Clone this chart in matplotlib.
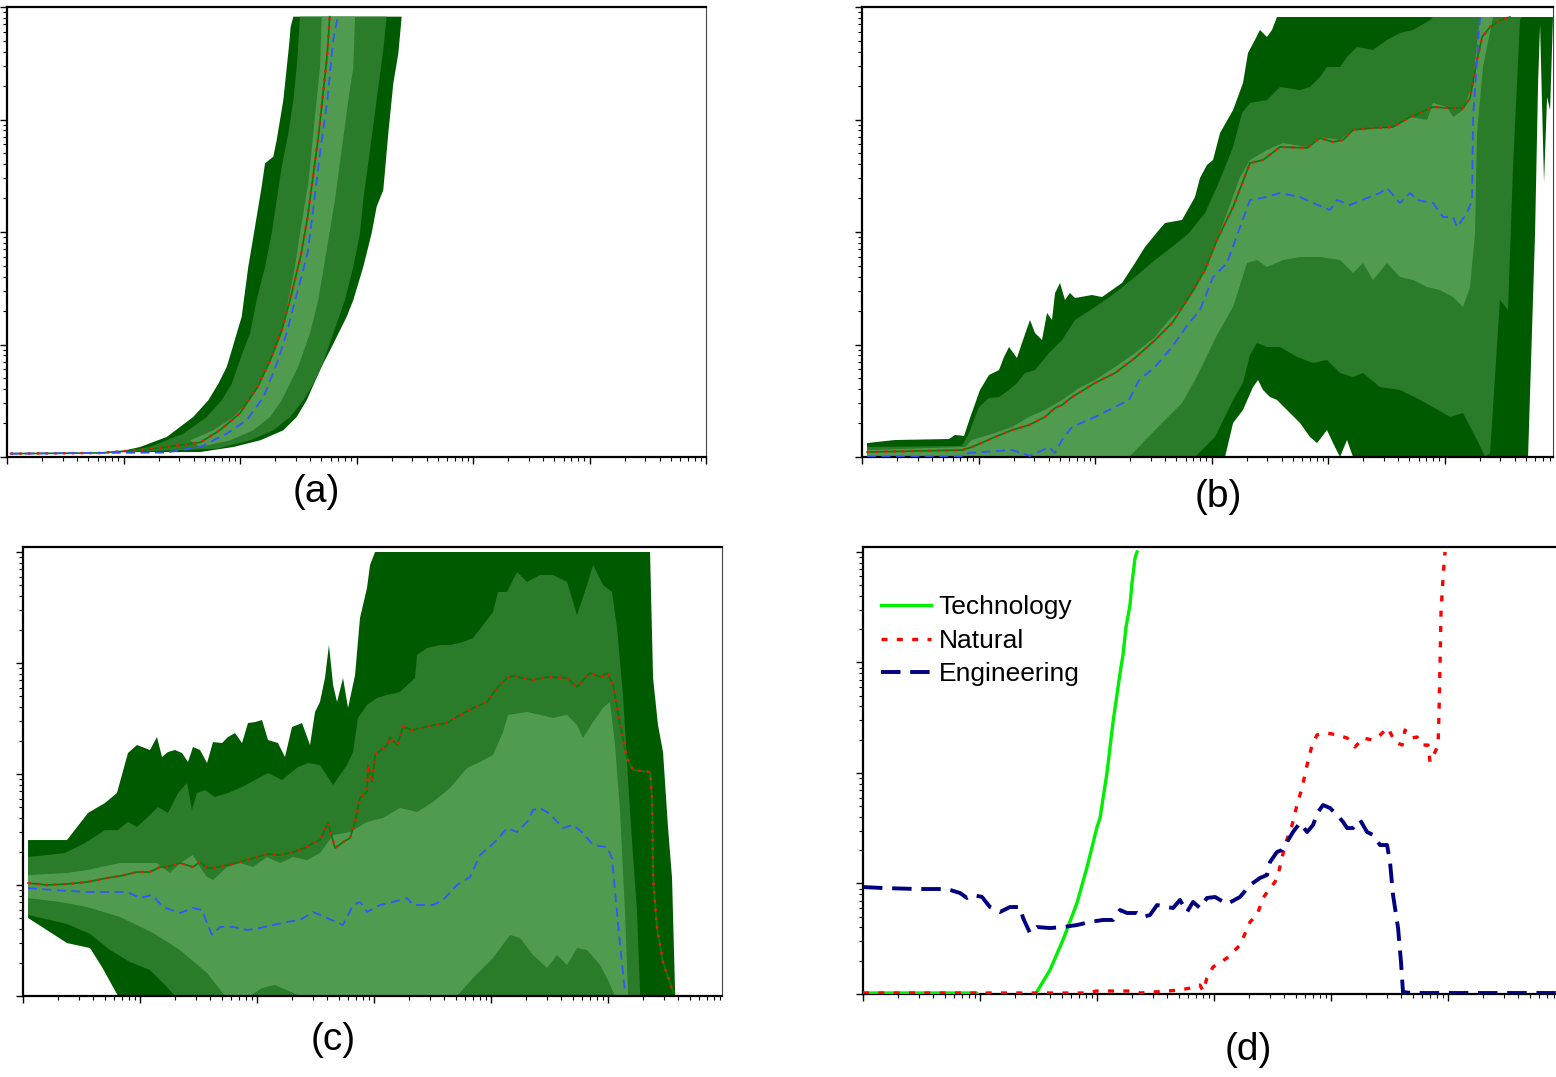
import numpy as np
import matplotlib
matplotlib.use("Agg")
import matplotlib.pyplot as plt
from matplotlib.ticker import LogLocator, NullFormatter

plt.rcParams['font.family'] = ['Liberation Sans', 'DejaVu Sans']

# all curves are (log10 x, log10 y) pairs

# ---- panel (a)
a_outer_hi = [(0.942,0.043),(1.142,0.089),(1.371,0.178),(1.485,0.267),(1.599,0.356),(1.728,0.504),
              (1.814,0.652),(1.886,0.8),(1.929,0.948),(1.971,1.096),(2.014,1.244),(2.071,1.69),
              (2.129,2.047),(2.186,2.403),(2.215,2.61),(2.286,2.67),(2.315,2.818),(2.372,3.173),
              (2.423,3.677),(2.435,3.825),(2.458,3.914)]
a_mid_hi = [(0.97,0.043),(1.227,0.089),(1.513,0.207),(1.714,0.356),(1.843,0.504),(1.929,0.652),
            (2.029,0.948),(2.086,1.1),(2.143,1.396),(2.215,1.69),(2.272,1.988),(2.315,2.284),
            (2.358,2.58),(2.415,2.877),(2.458,3.173),(2.487,3.469),(2.515,3.914)]
a_inner_hi = [(1.571,0.148),(1.771,0.237),(1.943,0.356),(2.086,0.504),(2.172,0.652),(2.300,0.948),
              (2.358,1.1),(2.415,1.396),(2.472,1.69),(2.515,1.988),(2.586,2.432),(2.629,2.877),
              (2.687,3.469),(2.701,3.914)]
a_inner_lo = [(1.657,0.089),(1.914,0.148),(2.114,0.237),(2.258,0.356),(2.358,0.504),(2.500,0.804),
              (2.601,1.1),(2.672,1.396),(2.744,1.84),(2.815,2.284),(2.873,2.73),(2.930,3.173),
              (2.973,3.469),(2.987,3.914)]
a_mid_lo = [(1.8,0.074),(2.086,0.148),(2.286,0.237),(2.429,0.356),(2.544,0.504),(2.629,0.652),
            (2.701,0.804),(2.801,1.1),(2.901,1.396),(2.973,1.69),(3.030,1.988),(3.058,2.284),
            (3.116,2.73),(3.173,3.173),(3.23,3.618),(3.259,3.914)]
a_outer_lo = [(1.657,0.044),(1.943,0.089),(2.172,0.148),(2.372,0.237),(2.487,0.356),(2.572,0.504),
              (2.701,0.804),(2.773,0.948),(2.916,1.247),(2.973,1.396),(3.058,1.69),(3.130,1.988),
              (3.173,2.225),(3.23,2.373),(3.273,2.877),(3.316,3.321),(3.359,3.588),(3.388,3.914)]
a_median = [(0.03,0.03),(0.80,0.036),(1.23,0.07),(1.66,0.13),(1.83,0.24),(2.00,0.39),(2.15,0.62),
            (2.26,0.86),(2.36,1.13),(2.43,1.40),(2.52,1.78),(2.58,2.13),(2.63,2.52),(2.67,2.82),
            (2.71,3.20),(2.75,3.59),(2.77,3.914)]
a_blue = [(0.03,0.03),(0.80,0.036),(1.37,0.04),(1.66,0.09),(1.89,0.21),(2.06,0.33),(2.20,0.53),
          (2.32,0.84),(2.40,1.10),(2.49,1.46),(2.58,1.81),(2.63,2.22),(2.69,2.73),(2.75,3.17),
          (2.80,3.71),(2.84,3.914)]

# ---- panel (b)
b_outer_hi = [(0.043,0.124),(0.283,0.151),(0.747,0.16),(0.798,0.196),(0.876,0.187),(0.927,0.347),
              (1.013,0.596),(1.090,0.729),(1.176,0.773),(1.219,0.889),(1.262,0.978),(1.330,0.88),
              (1.373,1.013),(1.442,1.218),(1.485,1.102),(1.545,1.04),(1.588,1.28),(1.631,1.218),
              (1.657,1.458),(1.700,1.547),(1.742,1.396),(1.785,1.458),(1.828,1.413),(1.974,1.44),
              (2.060,1.422),(2.232,1.547),(2.343,1.724),(2.429,1.867),(2.549,2.018),(2.601,2.08),
              (2.747,2.107),(2.858,2.311),(2.901,2.48),(2.961,2.596),(3.013,2.64),(3.073,2.88),
              (3.185,3.084),(3.270,3.324),(3.313,3.591),(3.373,3.707),(3.416,3.796),(3.476,3.733),
              (3.519,3.796),(3.562,3.911),(5.931,3.911)]
b_mid_hi = [(0.043,0.089),(0.858,0.098),(0.918,0.213),(1.004,0.444),(1.090,0.524),(1.176,0.533),
            (1.262,0.596),(1.330,0.658),(1.399,0.747),(1.485,0.773),(1.605,0.924),(1.717,1.04),
            (1.828,1.218),(2.0,1.333),(2.172,1.458),(2.343,1.6),(2.515,1.751),(2.661,1.867),
            (2.807,1.991),(2.944,2.169),(3.047,2.4),(3.185,2.756),(3.262,3.058),(3.330,3.147),
            (3.476,3.173),(3.588,3.289),(3.760,3.262),(3.845,3.289),(3.931,3.378),(3.991,3.467),
            (4.103,3.467),(4.163,3.556),(4.249,3.644),(4.386,3.618),(4.506,3.707),(4.618,3.769),
            (4.730,3.796),(4.876,3.884),(4.901,3.911),(5.931,3.911)]
b_inner_hi = [(0.043,0.062),(0.884,0.089),(0.944,0.151),(1.142,0.213),(1.288,0.267),(1.433,0.356),
              (1.571,0.418),(1.717,0.507),(1.863,0.613),(2.0,0.684),(2.172,0.8),(2.343,0.924),
              (2.515,1.067),(2.635,1.218),(2.747,1.333),(2.858,1.484),(2.987,1.769),(3.133,2.169),
              (3.245,2.489),(3.330,2.64),(3.476,2.729),(3.614,2.791),(3.820,2.756),(3.931,2.844),
              (4.103,2.818),(4.215,2.907),(4.386,2.924),(4.558,2.933),(4.704,3.022),(4.850,2.996),
              (4.901,3.147),(5.021,3.111),(5.073,3.022),(5.159,3.084),(5.245,3.324),(5.279,3.68),
              (5.305,3.911),(5.931,3.911)]
b_inner_lo = [(0.043,-0.5),(2.27,-0.5),(2.292,0.0),(2.575,0.302),(2.747,0.48),(2.858,0.684),
              (2.944,0.862),(3.047,1.084),(3.185,1.333),(3.305,1.724),(3.391,1.751),(3.476,1.689),
              (3.614,1.751),(3.760,1.778),(3.931,1.778),(4.103,1.751),(4.215,1.636),(4.300,1.724),
              (4.386,1.573),(4.506,1.724),(4.618,1.6),(4.730,1.573),(4.850,1.511),(4.961,1.484),
              (5.073,1.422),(5.159,1.333),(5.219,1.511),(5.262,1.991),(5.279,2.88),(5.330,3.467),
              (5.416,3.911)]
b_mid_lo = [(0.043,-0.5),(2.84,-0.5),(2.858,0.0),(3.030,0.178),(3.185,0.507),(3.270,0.658),
            (3.330,0.907),(3.391,1.013),(3.476,0.978),(3.588,0.978),(3.734,0.889),(3.871,0.836),
            (3.991,0.862),(4.103,0.747),(4.215,0.711),(4.300,0.747),(4.446,0.622),(4.618,0.596),
            (4.790,0.507),(4.901,0.444),(5.047,0.356),(5.159,0.391),(5.279,0.151),(5.348,0.0),
            (5.391,0.036),(5.476,1.396),(5.545,1.307),(5.588,2.578),(5.648,3.884),(5.66,3.911)]
b_outer_lo = [(0.043,-0.5),(3.10,-0.5),(3.116,0.0),(3.185,0.302),(3.270,0.418),(3.356,0.622),
              (3.399,0.684),(3.442,0.596),(3.502,0.533),(3.562,0.507),(3.648,0.418),(3.760,0.302),
              (3.845,0.178),(3.906,0.124),(3.991,0.24),(4.043,0.124),(4.103,0.0),(4.163,0.151),
              (4.215,0.0),(4.23,-0.5),(5.70,-0.5),(5.717,0.0),(5.777,1.991),(5.803,3.324),
              (5.820,3.84),(5.854,2.436),(5.880,3.2),(5.906,3.084),(5.931,3.911)]
b_median = [(0.043,0.044),(0.858,0.062),(0.944,0.089),(1.142,0.178),(1.288,0.24),(1.433,0.284),
            (1.571,0.356),(1.657,0.436),(1.717,0.462),(1.803,0.533),(2.0,0.658),(2.172,0.747),
            (2.343,0.88),(2.515,1.04),(2.661,1.191),(2.807,1.422),(2.944,1.662),(3.047,1.929),
            (3.185,2.222),(3.330,2.613),(3.442,2.64),(3.588,2.756),(3.820,2.747),(3.931,2.836),
            (4.043,2.8),(4.129,2.818),(4.215,2.907),(4.386,2.924),(4.558,2.933),(4.704,3.022),
            (4.901,3.111),(5.021,3.102),(5.159,3.102),(5.219,3.191),(5.279,3.529),(5.322,3.733),
            (5.391,3.822),(5.476,3.884),(5.562,3.911)]
b_blue = [(0.043,0.0),(0.85,0.0),(0.918,0.036),(1.288,0.062),(1.442,0.009),(1.605,0.089),
          (1.657,0.036),(1.717,0.151),(1.803,0.267),(2.0,0.356),(2.172,0.444),(2.292,0.507),
          (2.378,0.684),(2.515,0.8),(2.661,0.978),(2.807,1.191),(2.901,1.307),(3.013,1.6),
          (3.133,1.724),(3.245,2.044),(3.330,2.284),(3.476,2.311),(3.588,2.347),(3.760,2.311),
          (3.871,2.258),(4.017,2.196),(4.077,2.284),(4.189,2.24),(4.335,2.302),(4.446,2.347),
          (4.506,2.391),(4.618,2.258),(4.704,2.347),(4.764,2.284),(4.901,2.258),(4.987,2.133),
          (5.073,2.133),(5.107,2.044),(5.193,2.169),(5.236,2.284),(5.245,3.022),(5.288,3.68),
          (5.305,3.911)]

# ---- panel (c)
c_outer_hi = [(0.043,1.405),(0.376,1.405),(0.556,1.649),(0.701,1.739),(0.803,1.829),(0.897,2.189),
              (0.974,2.261),(1.085,2.216),(1.145,2.333),(1.188,2.153),(1.239,2.198),(1.299,2.216),
              (1.359,2.189),(1.410,2.108),(1.453,2.243),(1.513,2.216),(1.573,2.099),(1.624,2.288),
              (1.701,2.279),(1.752,2.333),(1.812,2.369),(1.872,2.279),(1.923,2.459),(1.983,2.468),
              (2.043,2.486),(2.094,2.306),(2.179,2.279),(2.239,2.153),(2.299,2.423),(2.385,2.459),
              (2.453,2.261),(2.496,2.559),(2.538,2.649),(2.581,2.865),(2.615,3.162),(2.650,2.802),
              (2.684,2.649),(2.735,2.865),(2.778,2.595),(2.838,2.892),(2.880,3.405),(2.940,3.676),
              (2.966,3.883),(3.009,4.0),(5.359,4.0),(5.385,2.865),(5.427,2.441),(5.470,2.198),
              (5.513,1.514),(5.547,1.063),(5.573,0.036),(5.598,-0.5)]
c_mid_hi = [(0.043,1.252),(0.359,1.288),(0.530,1.378),(0.701,1.495),(0.812,1.495),(0.897,1.568),
            (0.974,1.523),(1.068,1.613),(1.154,1.703),(1.239,1.649),(1.325,1.829),(1.402,1.919),
            (1.444,1.676),(1.487,1.829),(1.556,1.856),(1.641,1.793),(1.752,1.829),(1.872,1.883),
            (1.983,1.946),(2.094,2.009),(2.214,1.946),(2.350,2.063),(2.436,2.099),(2.538,2.081),
            (2.650,1.901),(2.769,2.081),(2.821,2.198),(2.863,2.505),(2.940,2.622),(3.026,2.685),
            (3.111,2.712),(3.222,2.739),(3.350,2.865),(3.368,3.072),(3.453,3.135),(3.564,3.162),
            (3.650,3.162),(3.761,3.189),(3.846,3.225),(3.932,3.342),(4.017,3.459),(4.060,3.640),
            (4.137,3.640),(4.222,3.820),(4.308,3.730),(4.419,3.793),(4.530,3.793),(4.650,3.730),
            (4.735,3.432),(4.821,3.703),(4.872,3.883),(4.957,3.703),(5.034,3.640),(5.077,3.315),
            (5.128,2.712),(5.188,1.658),(5.248,0.757),(5.274,0.036),(5.291,-0.5)]
c_inner_hi = [(0.043,1.090),(0.376,1.108),(0.547,1.135),(0.829,1.198),(1.145,1.198),(1.256,1.108),
              (1.342,1.198),(1.453,1.270),(1.513,1.162),(1.573,1.072),(1.624,1.045),(1.744,1.162),
              (1.855,1.198),(1.966,1.162),(2.085,1.252),(2.197,1.198),(2.308,1.252),(2.427,1.225),
              (2.538,1.288),(2.650,1.450),(2.795,1.477),(2.940,1.568),(3.077,1.604),(3.222,1.694),
              (3.368,1.658),(3.504,1.748),(3.650,1.874),(3.795,2.054),(3.906,2.108),(4.017,2.171),
              (4.103,2.378),(4.145,2.532),(4.308,2.559),(4.419,2.532),(4.530,2.505),(4.650,2.532),
              (4.735,2.441),(4.786,2.324),(4.872,2.468),(4.957,2.595),(5.017,2.649),(5.060,2.261),
              (5.103,1.658),(5.145,0.757),(5.171,0.036),(5.188,-0.5)]
c_inner_lo = [(0.043,0.883),(0.316,0.847),(0.547,0.802),(0.829,0.712),(1.111,0.568),(1.342,0.414),
              (1.573,0.207),(1.726,0.0),(1.75,-0.5),(1.92,-0.5),(1.94,0.0),(2.04,0.07),(2.15,0.1),
              (2.26,0.05),(2.37,0.0),(2.39,-0.5),(3.69,-0.5),(3.709,0.0),(3.846,0.162),(4.017,0.342),
              (4.162,0.550),(4.248,0.523),(4.359,0.369),(4.479,0.252),(4.564,0.369),(4.650,0.279),
              (4.735,0.432),(4.821,0.414),(4.932,0.279),(4.991,0.162),(5.060,0.0),(5.08,-0.5),
              (5.2,-0.5)]
c_mid_lo = [(0.043,0.730),(0.376,0.649),(0.573,0.559),(0.744,0.414),(0.915,0.306),(1.085,0.234),
            (1.214,0.099),(1.299,0.0),(1.32,-0.5),(5.35,-0.5)]
c_outer_lo = [(0.043,0.703),(0.376,0.477),(0.573,0.432),(0.675,0.261),(0.812,0.0),(0.83,-0.5),
              (5.65,-0.5)]
c_median = [(0.043,1.018),(0.205,1.0),(0.376,1.009),(0.547,1.027),(0.718,1.063),(0.829,1.081),
            (0.974,1.117),(1.085,1.117),(1.171,1.162),(1.231,1.162),(1.342,1.198),(1.453,1.162),
            (1.513,1.207),(1.573,1.153),(1.624,1.153),(1.744,1.180),(1.855,1.207),(1.966,1.243),
            (2.085,1.279),(2.197,1.270),(2.308,1.297),(2.427,1.342),(2.479,1.378),(2.538,1.405),
            (2.607,1.559),(2.667,1.333),(2.735,1.387),(2.795,1.423),(2.838,1.568),(2.880,1.784),
            (2.940,1.838),(2.949,2.081),(2.983,1.928),(3.009,2.171),(3.111,2.261),(3.137,2.333),
            (3.197,2.261),(3.248,2.423),(3.333,2.396),(3.504,2.441),(3.624,2.459),(3.735,2.532),
            (3.846,2.595),(3.966,2.649),(4.051,2.775),(4.137,2.865),(4.188,2.883),(4.359,2.847),
            (4.479,2.874),(4.650,2.865),(4.735,2.784),(4.846,2.910),(4.932,2.874),(4.991,2.910),
            (5.043,2.802),(5.103,2.441),(5.162,2.144),(5.214,2.036),(5.359,2.018),(5.376,1.784),
            (5.385,1.063),(5.419,0.613),(5.470,0.306),(5.556,0.036)]
c_blue = [(0.043,0.973),(0.256,0.955),(0.547,0.937),(0.889,0.937),(1.0,0.883),(1.103,0.910),
          (1.197,0.802),(1.342,0.748),(1.453,0.793),(1.530,0.775),(1.573,0.658),(1.615,0.550),
          (1.684,0.622),(1.795,0.622),(1.915,0.595),(2.026,0.613),(2.137,0.640),(2.256,0.667),
          (2.368,0.685),(2.479,0.757),(2.598,0.703),(2.735,0.640),(2.821,0.820),(2.880,0.847),
          (2.940,0.757),(3.051,0.820),(3.162,0.847),(3.282,0.883),(3.333,0.820),(3.504,0.820),
          (3.590,0.865),(3.709,1.0),(3.821,1.072),(3.906,1.270),(4.051,1.405),(4.137,1.514),
          (4.222,1.477),(4.308,1.568),(4.359,1.676),(4.419,1.694),(4.504,1.640),(4.615,1.514),
          (4.701,1.541),(4.786,1.468),(4.872,1.360),(4.991,1.342),(5.034,1.243),(5.060,0.937),
          (5.103,0.459),(5.145,0.036)]

# ---- panel (d)
labels_d = ['Technology', 'Natural', 'Engineering']
d_tech = [(0.0,0.009),(0.97,0.009),(1.0,-0.03),(1.47,-0.03),(1.48,0.009),(1.598,0.217),
          (1.709,0.489),(1.829,0.824),(1.915,1.149),(2.0,1.511),(2.026,1.593),(2.085,2.0),
          (2.137,2.462),(2.197,2.905),(2.222,3.068),(2.248,3.321),(2.282,3.520),(2.299,3.719),
          (2.325,3.946),(2.342,4.0)]
d_natural = [(0.0,0.009),(1.171,0.009),(1.940,0.009),(1.991,0.027),(2.299,0.027),(2.368,0.009),
             (2.709,0.036),(2.795,0.054),(2.880,0.081),(2.906,0.027),(2.940,0.145),(2.991,0.244),
             (3.111,0.326),(3.222,0.443),(3.308,0.652),(3.368,0.715),(3.419,0.869),(3.479,0.959),
             (3.521,1.014),(3.547,1.077),(3.581,1.231),(3.607,1.348),(3.667,1.529),(3.709,1.710),
             (3.752,1.864),(3.795,2.072),(3.838,2.253),(3.880,2.344),(3.966,2.362),(4.051,2.344),
             (4.137,2.317),(4.205,2.235),(4.274,2.317),(4.350,2.299),(4.419,2.344),(4.487,2.407),
             (4.547,2.281),(4.607,2.253),(4.632,2.389),(4.692,2.317),(4.735,2.326),(4.778,2.253),
             (4.829,2.253),(4.846,2.100),(4.889,2.190),(4.915,2.253),(4.923,2.552),(4.932,3.005),
             (4.940,3.457),(4.957,3.765),(4.974,4.0)]
d_engineering = [(0.0,0.968),(0.171,0.959),(0.462,0.950),(0.718,0.950),(0.829,0.914),(0.889,0.869),
                 (0.940,0.896),(1.017,0.878),(1.085,0.787),(1.171,0.742),(1.256,0.787),(1.342,0.787),
                 (1.368,0.688),(1.427,0.552),(1.487,0.606),(1.598,0.597),(1.709,0.606),(1.829,0.624),
                 (1.940,0.652),(2.051,0.670),(2.137,0.670),(2.197,0.760),(2.256,0.733),(2.342,0.733),
                 (2.393,0.697),(2.453,0.715),(2.513,0.805),(2.598,0.787),(2.650,0.778),(2.709,0.851),
                 (2.769,0.742),(2.821,0.833),(2.880,0.778),(2.940,0.869),(3.009,0.878),(3.111,0.814),
                 (3.222,0.878),(3.308,0.986),(3.393,1.050),(3.453,1.077),(3.479,1.195),(3.538,1.285),
                 (3.581,1.303),(3.624,1.376),(3.675,1.466),(3.735,1.548),(3.795,1.466),(3.846,1.529),
                 (3.889,1.647),(3.932,1.710),(3.991,1.683),(4.051,1.620),(4.103,1.557),(4.137,1.502),
                 (4.188,1.502),(4.248,1.575),(4.308,1.466),(4.359,1.439),(4.419,1.348),(4.479,1.348),
                 (4.504,1.195),(4.530,0.896),(4.573,0.597),(4.598,0.290),(4.615,0.018),(4.684,0.009),
                 (5.974,0.009)]

DARK, MID, LIGHT = '#005a00', '#2a7b2a', '#509b50'


def xy(curve):
    c = np.array(curve, dtype=float)
    return 10 ** c[:, 0], 10 ** c[:, 1]


def band(ax, hi, lo, color):
    x1, y1 = xy(hi)
    x2, y2 = xy(lo)
    ax.fill(np.r_[x1, x2[::-1]], np.r_[y1, y2[::-1]], color=color, lw=0, zorder=1)


def setup(ax, xmax, ymax):
    ax.set_xscale('log')
    ax.set_yscale('log')
    ax.set_xlim(1, 10 ** xmax)
    ax.set_ylim(1, 10 ** ymax)
    for axis in (ax.xaxis, ax.yaxis):
        axis.set_major_locator(LogLocator(base=10, numticks=30))
        axis.set_minor_locator(LogLocator(base=10, subs=np.arange(2, 10), numticks=30))
        axis.set_major_formatter(NullFormatter())
        axis.set_minor_formatter(NullFormatter())
    ax.tick_params(which='major', length=5, width=1.0, direction='out')
    ax.tick_params(which='minor', length=3, width=0.8, direction='out')
    for s in ('left', 'bottom', 'top'):
        ax.spines[s].set_linewidth(1.6)
    ax.spines['right'].set_linewidth(0.8)
    ax.spines['right'].set_color('#444444')


def fan(ax, outer, mid, inner, median, blue):
    band(ax, outer[0], outer[1], DARK)
    band(ax, mid[0], mid[1], MID)
    band(ax, inner[0], inner[1], LIGHT)
    x, y = xy(median)
    ax.plot(x, y, color='#008000', lw=1.2, zorder=3)
    ax.plot(x, y, color='#ff1010', lw=1.8, ls=(0, (1, 2.5)), zorder=4)
    x, y = xy(blue)
    ax.plot(x, y, color='#3355ff', lw=1.3, ls=(0, (5, 3)), zorder=4)


W, H = 1556, 1077
fig = plt.figure(figsize=(W / 100, H / 100), dpi=100)

ax_a = fig.add_axes([7 / W, (H - 457) / H, 699 / W, 450 / H])
ax_b = fig.add_axes([862 / W, (H - 457) / H, 691 / W, 450 / H])
ax_c = fig.add_axes([23 / W, (H - 996) / H, 699 / W, 449 / H])
ax_d = fig.add_axes([863 / W, (H - 994) / H, 699 / W, 447 / H])

setup(ax_a, 6.0, 4.0)
setup(ax_b, 5.931, 4.0)
setup(ax_c, 5.974, 4.045)
setup(ax_d, 5.974, 4.045)

fan(ax_a, (a_outer_hi, a_outer_lo), (a_mid_hi, a_mid_lo), (a_inner_hi, a_inner_lo), a_median, a_blue)
fan(ax_b, (b_outer_hi, b_outer_lo), (b_mid_hi, b_mid_lo), (b_inner_hi, b_inner_lo), b_median, b_blue)
fan(ax_c, (c_outer_hi, c_outer_lo), (c_mid_hi, c_mid_lo), (c_inner_hi, c_inner_lo), c_median, c_blue)

x, y = xy(d_tech)
ax_d.plot(x, y, color='#00ee00', lw=2.4, label=labels_d[0], zorder=3)
x, y = xy(d_natural)
ax_d.plot(x, y, color='#ff0000', lw=2.4, ls=(0, (1.8, 2.8)), label=labels_d[1], zorder=3)
x, y = xy(d_engineering)
ax_d.plot(x, y, color='#000080', lw=2.8, ls=(0, (5, 2.5)), label=labels_d[2], zorder=3)
ax_d.legend(loc='upper left', bbox_to_anchor=(-0.008, 0.945), frameon=False, fontsize=19,
            handlelength=1.9, handletextpad=0.27, labelspacing=0.36, borderpad=0.4)

fig.text(316 / W, (H - 492) / H, '(a)', fontsize=28, ha='center', va='center')
fig.text(1218 / W, (H - 497) / H, '(b)', fontsize=28, ha='center', va='center')
fig.text(333 / W, (H - 1040) / H, '(c)', fontsize=28, ha='center', va='center')
fig.text(1248 / W, (H - 1050) / H, '(d)', fontsize=28, ha='center', va='center')

fig.savefig('out.png', dpi=100)
